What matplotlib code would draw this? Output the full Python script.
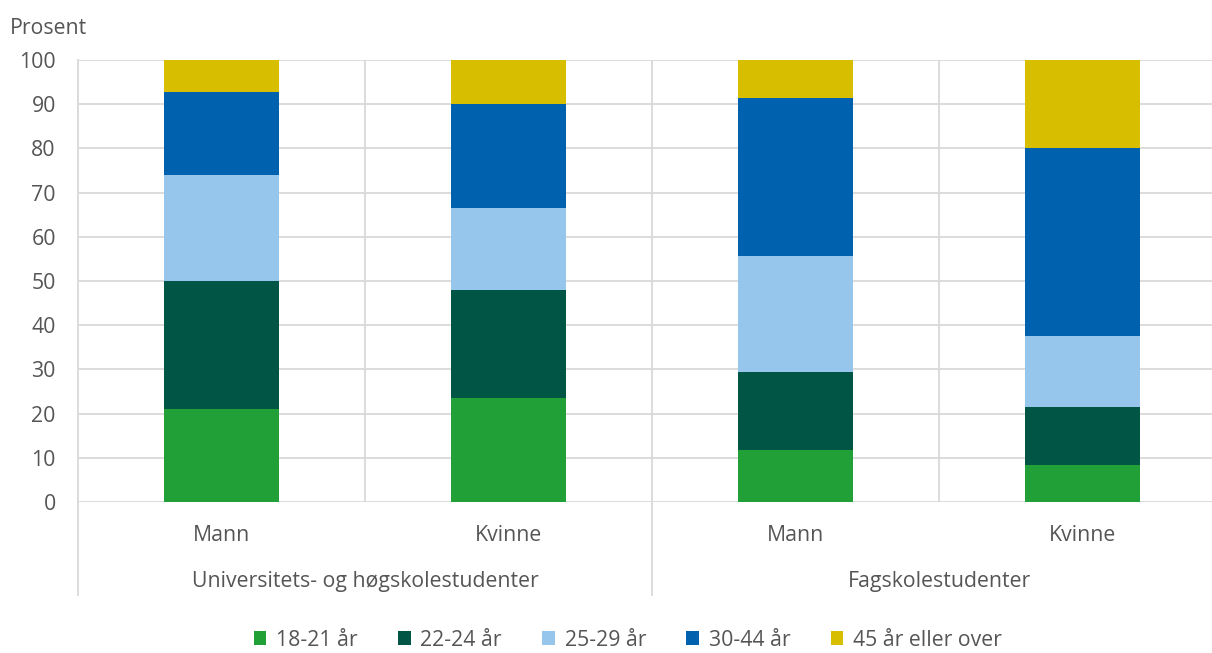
import numpy as np
import matplotlib
matplotlib.use("Agg")
import matplotlib.pyplot as plt

plt.rcParams['font.family'] = ['Open Sans', 'DejaVu Sans']

# data (percent)
groups = ["Universitets- og høgskolestudenter", "Fagskolestudenter"]
sexes = ["Mann", "Kvinne", "Mann", "Kvinne"]
age_labels = ["18-21 år", "22-24 år", "25-29 år", "30-44 år", "45 år eller over"]

age_18_21 = [21.0, 23.5, 11.7, 8.4]
age_22_24 = [29.0, 24.5, 17.7, 13.2]
age_25_29 = [24.0, 18.5, 26.3, 16.0]
age_30_44 = [18.8, 23.5, 35.8, 42.5]
age_45_up = [7.2, 10.0, 8.5, 19.9]

colors = ["#21a038", "#005545", "#96c6eb", "#0062ae", "#d7bf00"]
text_col = "#555555"
grid_col = "#d9d9d9"
fs = 15.3

W, H = 1212, 653
fig = plt.figure(figsize=(W / 100, H / 100), dpi=100)
ax = fig.add_axes([78 / W, (H - 502) / H, 1148 / W, 442 / H])

x = np.arange(len(sexes))
bottom = np.zeros(len(sexes))
series = [age_18_21, age_22_24, age_25_29, age_30_44, age_45_up]
for vals, col, lab in zip(series, colors, age_labels):
    ax.bar(x, vals, width=0.4, bottom=bottom, color=col, label=lab, zorder=3)
    bottom += np.array(vals)

ax.set_xlim(-0.5, 3.5)
ax.set_ylim(0, 100)
ax.set_yticks(np.arange(0, 101, 10))
ax.tick_params(axis='y', length=0, pad=16, labelsize=fs, labelcolor=text_col)
ax.set_xticks([])
ax.yaxis.grid(True, color=grid_col, lw=1.3, zorder=0)

for s in ["top", "right", "bottom"]:
    ax.spines[s].set_visible(False)
ax.spines["left"].set_color(grid_col)
ax.spines["left"].set_linewidth(1.3)

# vertical separators inside the plot
for xv in [0.5, 1.5, 2.5]:
    ax.axvline(xv, color=grid_col, lw=1.3, zorder=0)

# separators extending into label area
tr = ax.get_xaxis_transform()
for xv in [-0.5, 1.5]:
    ax.plot([xv, xv], [0, -0.21], transform=tr, color=grid_col, lw=1.3, clip_on=False)

for xi, s in zip(x, sexes):
    ax.text(xi, -0.076, s, transform=tr, ha='center', va='center', fontsize=fs, color=text_col)
for gi, g in enumerate(groups):
    ax.text(gi * 2 + 0.5, -0.179, g, transform=tr, ha='center', va='center', fontsize=fs, color=text_col)

fig.text(10 / W, 1 - 28 / H, "Prosent", ha='left', va='center', fontsize=fs, color=text_col)

leg = fig.legend(loc='center', bbox_to_anchor=(0.518, 1 - 640 / H), ncol=5, frameon=False,
                 fontsize=fs, handlelength=0.6, handleheight=0.6, handletextpad=0.45,
                 columnspacing=1.9, borderpad=0.2, labelcolor=text_col)

fig.savefig("out.png", dpi=100)
